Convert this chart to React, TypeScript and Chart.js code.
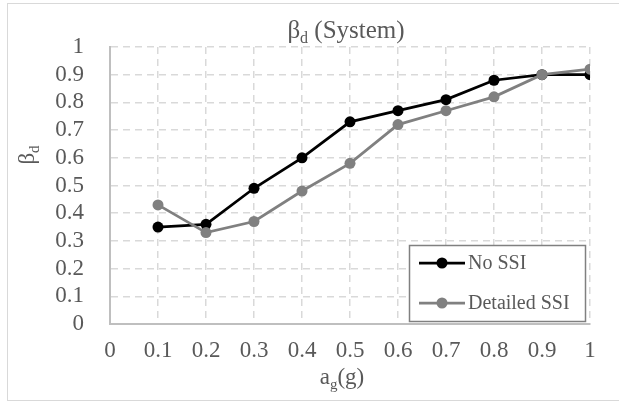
import React, { useEffect, useRef } from "react";
import { Chart, registerables } from "chart.js";

Chart.register(...registerables);

const agValues = [0.1, 0.2, 0.3, 0.4, 0.5, 0.6, 0.7, 0.8, 0.9, 1.0];
const noSSI = [0.35, 0.36, 0.49, 0.6, 0.73, 0.77, 0.81, 0.88, 0.9, 0.9];
const detailedSSI = [0.43, 0.33, 0.37, 0.48, 0.58, 0.72, 0.77, 0.82, 0.9, 0.92];
const seriesNames = ["No SSI", "Detailed SSI"];
const seriesColors = ["#000000", "#808080"];
const titleMain = "β";
const titleSub = "d";
const titleRest = " (System)";
const yTitleMain = "β";
const yTitleSub = "d";
const xTitleMain = "a";
const xTitleSub = "g";
const xTitleRest = "(g)";

const FONT = "'Liberation Serif', 'Times New Roman', serif";
const TEXT = "#595959";

function drawSubText(ctx: CanvasRenderingContext2D, parts: { t: string; size: number; dy: number }[], cx: number, y: number) {
  let total = 0;
  const widths = parts.map((p) => {
    ctx.font = `${p.size}px ${FONT}`;
    const w = ctx.measureText(p.t).width;
    total += w;
    return w;
  });
  let x = cx - total / 2;
  parts.forEach((p, i) => {
    ctx.font = `${p.size}px ${FONT}`;
    ctx.fillText(p.t, x, y + p.dy);
    x += widths[i];
  });
}

const decorPlugin = {
  id: "decor",
  beforeDraw(chart: any) {
    const ctx = chart.ctx as CanvasRenderingContext2D;
    ctx.save();
    ctx.fillStyle = "#ffffff";
    ctx.fillRect(0, 0, chart.width, chart.height);
    ctx.strokeStyle = "#d9d9d9";
    ctx.lineWidth = 1;
    ctx.strokeRect(7.5, 3.5, 620, 397);
    ctx.restore();
  },
  afterDraw(chart: any) {
    const ctx = chart.ctx as CanvasRenderingContext2D;
    const area = chart.chartArea;
    ctx.save();
    ctx.fillStyle = TEXT;
    ctx.textBaseline = "alphabetic";
    ctx.textAlign = "left";
    // Title
    drawSubText(
      ctx,
      [
        { t: titleMain, size: 25, dy: 0 },
        { t: titleSub, size: 16, dy: 5 },
        { t: titleRest, size: 25, dy: 0 },
      ],
      (area.left + area.right) / 2 - 4,
      38
    );
    // X title
    drawSubText(
      ctx,
      [
        { t: xTitleMain, size: 23, dy: 0 },
        { t: xTitleSub, size: 15, dy: 5 },
        { t: xTitleRest, size: 23, dy: 0 },
      ],
      (area.left + area.right) / 2 - 8,
      384
    );
    // Y title (rotated)
    ctx.save();
    ctx.translate(34, 155);
    ctx.rotate(-Math.PI / 2);
    drawSubText(
      ctx,
      [
        { t: yTitleMain, size: 23, dy: 0 },
        { t: yTitleSub, size: 15, dy: 5 },
      ],
      0,
      0
    );
    ctx.restore();

    // Legend
    const lx = 409.5, ly = 245.5, lw = 176, lh = 76;
    ctx.fillStyle = "#ffffff";
    ctx.fillRect(lx, ly, lw, lh);
    ctx.strokeStyle = "#808080";
    ctx.lineWidth = 1.5;
    ctx.strokeRect(lx, ly, lw, lh);
    const rows = [263, 303];
    seriesNames.forEach((name, i) => {
      const y = rows[i];
      ctx.strokeStyle = seriesColors[i];
      ctx.lineWidth = 2.75;
      ctx.beginPath();
      ctx.moveTo(419, y);
      ctx.lineTo(465, y);
      ctx.stroke();
      ctx.fillStyle = seriesColors[i];
      ctx.beginPath();
      ctx.arc(442, y, 5.5, 0, Math.PI * 2);
      ctx.fill();
      ctx.fillStyle = TEXT;
      ctx.font = `20px ${FONT}`;
      ctx.textBaseline = "middle";
      ctx.fillText(name, 468, y + 1);
    });
    ctx.restore();
  },
};

export default function App() {
  const ref = useRef<HTMLCanvasElement | null>(null);
  useEffect(() => {
    if (!ref.current) return;
    const mk = (vals: number[]) => agValues.map((x, i) => ({ x, y: vals[i] }));
    const chart = new Chart(ref.current, {
      type: "line",
      data: {
        datasets: [
          {
            label: seriesNames[0],
            data: mk(noSSI),
            borderColor: seriesColors[0],
            backgroundColor: seriesColors[0],
            borderWidth: 2.75,
            pointRadius: 5.5,
            pointHoverRadius: 5.5,
            pointBorderWidth: 0,
            tension: 0,
            order: 1,
          },
          {
            label: seriesNames[1],
            data: mk(detailedSSI),
            borderColor: seriesColors[1],
            backgroundColor: seriesColors[1],
            borderWidth: 2.75,
            pointRadius: 5.5,
            pointHoverRadius: 5.5,
            pointBorderWidth: 0,
            tension: 0,
            order: 0,
          },
        ],
      },
      options: {
        animation: false,
        responsive: false,
        events: [],
        layout: { padding: { left: 40, top: 47, right: 29, bottom: 29 } },
        plugins: {
          legend: { display: false },
          title: { display: false },
          tooltip: { enabled: false },
        },
        scales: {
          x: {
            type: "linear",
            min: 0,
            max: 1,
            afterFit: (s: any) => {
              s.height = 50;
            },
            ticks: {
              stepSize: 0.1,
              autoSkip: false,
              padding: 13,
              color: TEXT,
              font: { family: FONT, size: 23 },
              maxRotation: 0,
              callback: (v: any) => String(Number(Number(v).toFixed(1))),
            },
            grid: { color: "#d9d9d9", lineWidth: 1.5, drawTicks: false },
            border: { display: true, color: "#bfbfbf", width: 2, dash: [7, 5] },
          },
          y: {
            type: "linear",
            min: 0,
            max: 1,
            afterFit: (s: any) => {
              s.width = 70;
            },
            ticks: {
              stepSize: 0.1,
              autoSkip: false,
              padding: 26,
              color: TEXT,
              font: { family: FONT, size: 23 },
              callback: (v: any) => String(Number(Number(v).toFixed(1))),
            },
            grid: { color: "#d9d9d9", lineWidth: 1.5, drawTicks: false },
            border: { display: true, color: "#bfbfbf", width: 2, dash: [7, 5] },
          },
        },
      },
      plugins: [decorPlugin],
    });
    return () => chart.destroy();
  }, []);
  return (
    <div style={{ position: "fixed", left: 0, top: 0, width: 619, height: 403 }}>
      <canvas ref={ref} width={619} height={403} style={{ width: 619, height: 403, display: "block" }} />
    </div>
  );
}
